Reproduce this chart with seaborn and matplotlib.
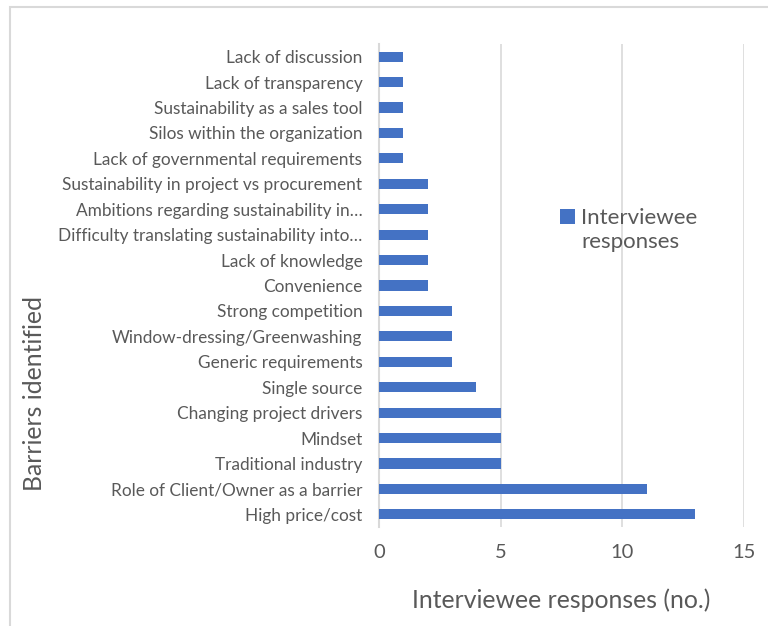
import matplotlib
matplotlib.use("Agg")
import matplotlib.pyplot as plt
import seaborn as sns
import pandas as pd
from matplotlib.patches import Rectangle
from matplotlib.legend_handler import HandlerPatch
from matplotlib.container import BarContainer

categories = [
    "Lack of discussion",
    "Lack of transparency",
    "Sustainability as a sales tool",
    "Silos within the organization",
    "Lack of governmental requirements",
    "Sustainability in project vs procurement",
    "Ambitions regarding sustainability in…",
    "Difficulty translating sustainability into…",
    "Lack of knowledge",
    "Convenience",
    "Strong competition",
    "Window-dressing/Greenwashing",
    "Generic requirements",
    "Single source",
    "Changing project drivers",
    "Mindset",
    "Traditional industry",
    "Role of Client/Owner as a barrier",
    "High price/cost",
]
responses = [1, 1, 1, 1, 1, 2, 2, 2, 2, 2, 3, 3, 3, 4, 5, 5, 5, 11, 13]
series_name = "Interviewee\nresponses"
x_ticks = [0, 5, 10, 15]

df = pd.DataFrame({"Barrier": categories, "Responses": responses})

sns.set_theme(style="white")
plt.rcParams["font.family"] = ["Lato", "DejaVu Sans"]

txt = "#595959"
bar_color = "#4472C4"
grid_color = "#D9D9D9"

fig = plt.figure(figsize=(7.68, 6.26), dpi=100)
ax = fig.add_axes([379 / 768, 1 - 527 / 626, 365 / 768, 483 / 626])

sns.barplot(data=df, x="Responses", y="Barrier", color=bar_color,
            width=0.4, orient="h", ax=ax, label=series_name,
            saturation=1, edgecolor="none")

ax.set_xlim(0, 15)
ax.set_ylim(len(categories) - 0.5, -0.5)
ax.set_xticks(x_ticks)
ax.set_xticklabels([str(t) for t in x_ticks], fontsize=14.5, color=txt)
ax.tick_params(axis="x", length=0, pad=12)
ax.tick_params(axis="y", length=0, pad=12, labelsize=12.4, labelcolor=txt)
for lab in ax.get_yticklabels():
    lab.set_color(txt)

ax.grid(axis="x", color=grid_color, linewidth=1.2)
ax.set_axisbelow(True)
for s in ["top", "right", "bottom"]:
    ax.spines[s].set_visible(False)
ax.spines["left"].set_color(grid_color)
ax.spines["left"].set_linewidth(1.5)
ax.spines["left"].set_zorder(0.5)

ax.set_xlabel("Interviewee responses (no.)", fontsize=17.8, color=txt)
ax.xaxis.set_label_coords(0.5, -0.128)
ax.set_ylabel("Barriers identified", fontsize=17.8, color=txt)
ax.yaxis.set_label_coords(-0.912, 0.277)


def top_square(legend, orig_handle, xdescent, ydescent, width, height, fontsize):
    return Rectangle((-xdescent, -ydescent + 0.6 * fontsize), width, height)


handles, labels = ax.get_legend_handles_labels()
handles = [h.patches[0] if isinstance(h, BarContainer) else h for h in handles]
leg = ax.legend(handles, labels, loc="center left",
                bbox_to_anchor=(161 / 365, (527 - 230) / 483),
                frameon=False, fontsize=16, handlelength=0.66, handleheight=0.66,
                handletextpad=0.3, labelcolor=txt,
                handler_map={Rectangle: HandlerPatch(patch_func=top_square)})

fig.patches.append(Rectangle((9.5 / 768, -0.1), 1.2, 1.1 - 6.5 / 626,
                             transform=fig.transFigure, fill=False,
                             edgecolor="#D9D9D9", linewidth=1.5))

fig.savefig("out.png", dpi=100)
